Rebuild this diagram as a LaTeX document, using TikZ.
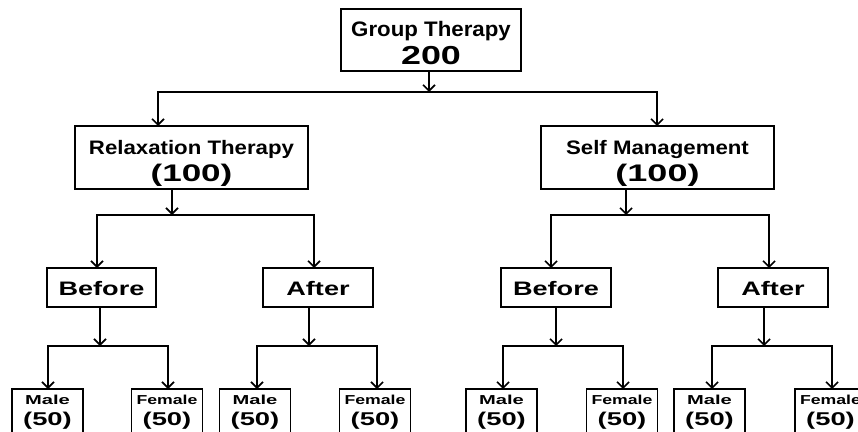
\documentclass[tikz,border=0pt]{standalone}
\usepackage{fontspec}
\setmainfont{Liberation Sans}
\usetikzlibrary{arrows.meta}
\newcommand\mystrut[2]{\rule[-#2]{0pt}{\dimexpr#1+#2\relax}}
\newcommand\hs[2]{\scalebox{#1}[1]{#2}}
\begin{document}
\begin{tikzpicture}[x=1pt,y=-1pt,
  box/.style={draw,line width=1.7pt,inner sep=0pt,outer sep=0pt,align=center},
  topbox/.style={box,minimum width=180pt,font=\bfseries\fontsize{21}{28}\selectfont},
  midbox/.style={box,minimum width=233pt,font=\bfseries\fontsize{19.5}{27}\selectfont},
  babox/.style={box,minimum width=110pt,font=\bfseries\fontsize{19.5}{24}\selectfont},
  leaf/.style={box,minimum width=71pt,font=\bfseries\fontsize{13}{21}\selectfont},
  tip/.tip={Straight Barb[length=6pt,width=12pt]},
  conn/.style={line width=1.6pt,-tip},
  fork/.style={line width=1.6pt,tip-tip,line join=miter}]
\useasboundingbox (0,0) rectangle (858,431);
% level 0
\node[topbox] (g) at (431,40) {\mystrut{27pt}{0pt}\bfseries\fontsize{21}{28}\selectfont\hs{1.06}{Group Therapy}\\
  \bfseries\fontsize{26}{28}\selectfont\hs{1.38}{200}\mystrut{0pt}{7pt}};
% level 1
\node[midbox] (rt) at (191.5,157.5) {\mystrut{28pt}{0pt}\bfseries\fontsize{19.5}{27}\selectfont\hs{1.14}{Relaxation Therapy}\\
  \bfseries\fontsize{24}{27}\selectfont\hs{1.46}{(100)}\mystrut{0pt}{8pt}};
\node[midbox] (sm) at (657.5,157.5) {\mystrut{28pt}{0pt}\bfseries\fontsize{19.5}{27}\selectfont\hs{1.14}{Self Management}\\
  \bfseries\fontsize{24}{27}\selectfont\hs{1.5}{(100)}\mystrut{0pt}{8pt}};
% level 2
\node[babox,minimum width=109pt] (b1) at (101.5,287.5) {\mystrut{27pt}{12pt}\bfseries\fontsize{19.5}{24}\selectfont\hs{1.39}{Before}};
\node[babox] (a1) at (318,287.5) {\mystrut{27pt}{12pt}\bfseries\fontsize{19.5}{24}\selectfont\hs{1.39}{After}};
\node[babox] (b2) at (556,287.5) {\mystrut{27pt}{12pt}\bfseries\fontsize{19.5}{24}\selectfont\hs{1.39}{Before}};
\node[babox] (a2) at (773,287.5) {\mystrut{27pt}{12pt}\bfseries\fontsize{19.5}{24}\selectfont\hs{1.39}{After}};
% level 3
\newcommand\male{\mystrut{15pt}{0pt}\bfseries\fontsize{13}{21}\selectfont\hs{1.55}{Male}\\\bfseries\fontsize{18.5}{21}\selectfont\hs{1.48}{(50)}\mystrut{0pt}{8pt}}
\newcommand\female{\mystrut{15pt}{0pt}\bfseries\fontsize{13}{21}\selectfont\hs{1.36}{Female}\\\bfseries\fontsize{18.5}{21}\selectfont\hs{1.48}{(50)}\mystrut{0pt}{8pt}}
\node[leaf] (m1) at (47.5,411) {\male};
\node[leaf] (f1) at (167,411) {\female};
\node[leaf] (m2) at (255,411) {\male};
\node[leaf] (f2) at (375,411) {\female};
\node[leaf] (m3) at (501.5,411) {\male};
\node[leaf] (f3) at (622,411) {\female};
\node[leaf] (m4) at (709.5,411) {\male};
\node[leaf] (f4) at (830.5,411) {\female};
% connectors level 0 -> 1
\coordinate (j0) at (429,92);
\coordinate (p1) at (158,92);
\coordinate (p2) at (657,92);
\draw[conn] (g.south -| j0) -- (j0);
\draw[fork] (p1 |- rt.north) -- (p1) -- (p2) -- (p2 |- sm.north);
% level 1 -> 2
\coordinate (jr) at (172,215);
\coordinate (q1) at (97,215);
\coordinate (q2) at (314,215);
\draw[conn] (rt.south -| jr) -- (jr);
\draw[fork] (q1 |- b1.north) -- (q1) -- (q2) -- (q2 |- a1.north);
\coordinate (js) at (626,215);
\coordinate (q3) at (551,215);
\coordinate (q4) at (769,215);
\draw[conn] (sm.south -| js) -- (js);
\draw[fork] (q3 |- b2.north) -- (q3) -- (q4) -- (q4 |- a2.north);
% level 2 -> 3
\coordinate (k1) at (100,346);
\coordinate (r1) at (48,346);
\coordinate (r2) at (168,346);
\draw[conn] (b1.south -| k1) -- (k1);
\draw[fork] (r1 |- m1.north) -- (r1) -- (r2) -- (r2 |- f1.north);
\coordinate (k2) at (309,346);
\coordinate (r3) at (257,346);
\coordinate (r4) at (377,346);
\draw[conn] (a1.south -| k2) -- (k2);
\draw[fork] (r3 |- m2.north) -- (r3) -- (r4) -- (r4 |- f2.north);
\coordinate (k3) at (556,346);
\coordinate (r5) at (503,346);
\coordinate (r6) at (623,346);
\draw[conn] (b2.south -| k3) -- (k3);
\draw[fork] (r5 |- m3.north) -- (r5) -- (r6) -- (r6 |- f3.north);
\coordinate (k4) at (764,346);
\coordinate (r7) at (712,346);
\coordinate (r8) at (832,346);
\draw[conn] (a2.south -| k4) -- (k4);
\draw[fork] (r7 |- m4.north) -- (r7) -- (r8) -- (r8 |- f4.north);
\end{tikzpicture}
\end{document}
